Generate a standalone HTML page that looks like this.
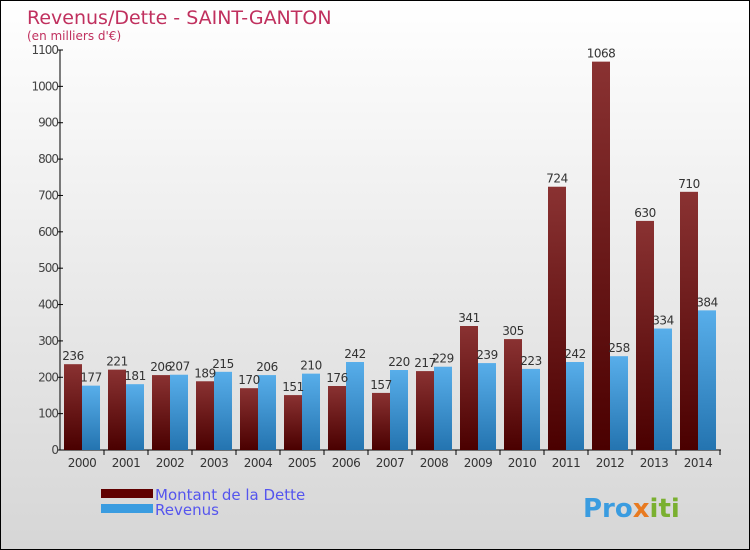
<!DOCTYPE html>
<html><head><meta charset="utf-8"><style>
body{margin:0}
#c{position:relative;width:748px;height:548px;border:1px solid #000;background:linear-gradient(#fff,#d6d6d6);font-family:"DejaVu Sans","Liberation Sans",sans-serif;overflow:hidden}
</style></head><body>
<div id="c">
<svg id="s" width="748" height="548">
<defs>
<linearGradient id="gd" x1="0" y1="0" x2="0" y2="1"><stop offset="0" stop-color="#8a3232"/><stop offset="1" stop-color="#4a0000"/></linearGradient>
<linearGradient id="gr" x1="0" y1="0" x2="0" y2="1"><stop offset="0" stop-color="#58aeea"/><stop offset="1" stop-color="#2474b0"/></linearGradient>
</defs>
<text x="26" y="23" font-size="19" fill="#c0305e">Revenus/Dette - SAINT-GANTON</text>
<text x="26" y="39" font-size="12" fill="#c0305e">(en milliers d'€)</text>
<g id="ax"></g><g id="bars"></g>
<rect x="100" y="488" width="52" height="9" fill="#600000"/>
<rect x="100" y="503" width="52" height="9" fill="#3a9ce0"/>
<text x="154" y="499" font-size="15" fill="#5555ee">Montant de la Dette</text>
<text x="154" y="514" font-size="15" fill="#5555ee">Revenus</text>
<text x="582" y="516" font-size="26" font-weight="bold" fill="#3a9ce0">Pro<tspan fill="#e87a20">x</tspan><tspan fill="#7ab030">iti</tspan></text>
</svg>
</div>
<script>
const years=["2000","2001","2002","2003","2004","2005","2006","2007","2008","2009","2010","2011","2012","2013","2014"];
const dette=[236,221,206,189,170,151,176,157,217,341,305,724,1068,630,710];
const revenus=[177,181,207,215,206,210,242,220,229,239,223,242,258,334,384];
const ticks=[0,100,200,300,400,500,600,700,800,900,1000,1100];
const NS="http://www.w3.org/2000/svg";
const y=v=>449-v*400/1100;
const xc=i=>81+i*44;
function mk(t,a,p){const e=document.createElementNS(NS,t);for(const k in a)e.setAttribute(k,a[k]);p.appendChild(e);return e;}
const ax=document.getElementById('ax'),bars=document.getElementById('bars');
const yl=mk('line',{x1:59,y1:49,x2:59,y2:449,stroke:'#000'},ax);


const xl=mk('line',{x1:59,y1:449,x2:720,y2:449,stroke:'#000'},ax);


ticks.forEach(t=>{
 mk('line',{x1:56,x2:62,y1:y(t),y2:y(t),stroke:'#000'},ax);
 const e=mk('text',{x:57,y:y(t)+4,'font-size':12,fill:'#444','text-anchor':'end','letter-spacing':'-1'},ax);e.textContent=t;
 
 
});
years.forEach((yr,i)=>{
 const c=xc(i);
 mk('line',{x1:c+22,x2:c+22,y1:449,y2:454,stroke:'#000'},ax);
 const t=mk('text',{x:c,y:466,'font-size':12,fill:'#333','text-anchor':'middle','letter-spacing':'-0.5'},ax);t.textContent=yr;
 
 
 const d=mk('rect',{x:c-18,y:y(dette[i]),width:18,height:449-y(dette[i]),fill:'url(#gd)'},bars);
 
 
 const r=mk('rect',{x:c,y:y(revenus[i]),width:18,height:449-y(revenus[i]),fill:'url(#gr)'},bars);
 
 
 const ld=mk('text',{x:c-9,y:y(dette[i])-4,'font-size':12,fill:'#333','text-anchor':'middle','letter-spacing':'-0.5'},bars);ld.textContent=dette[i];
 
 
 const lr=mk('text',{x:c+9,y:y(revenus[i])-4,'font-size':12,fill:'#333','text-anchor':'middle','letter-spacing':'-0.5'},bars);lr.textContent=revenus[i];
 
 
});
</script>
</body></html>
